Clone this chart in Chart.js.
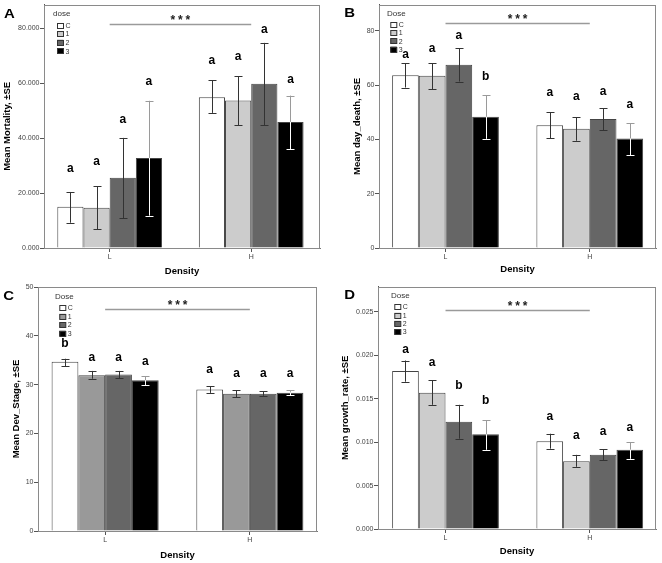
<!DOCTYPE html>
<html>
<head>
<meta charset="utf-8">
<script src="https://cdn.jsdelivr.net/npm/chart.js"></script>
<style>
html, body { margin: 0; padding: 0; background: #fff; }
#wrap { position: relative; width: 662px; height: 563px; }
canvas { position: absolute; }
</style>
</head>
<body>
<div id="wrap">
  <canvas id="chartA" width="331" height="282" style="left:0;top:0"></canvas>
  <canvas id="chartB" width="331" height="282" style="left:331px;top:0"></canvas>
  <canvas id="chartC" width="331" height="281" style="left:0;top:282px"></canvas>
  <canvas id="chartD" width="331" height="281" style="left:331px;top:282px"></canvas>
</div>
<script>
// categories and series (rows = dose C,1,2,3; columns = density L,H)
const densities = ['L', 'H'];
const doses = ['C', '1', '2', '3'];

// A - mortality
const mortMean = [[15.0, 54.9], [14.7, 53.7], [25.6, 59.8], [32.8, 45.9]];
const mortLow = [[9.2, 49.2], [6.9, 44.7], [10.9, 44.7], [11.8, 36.0]];
const mortHigh = [[20.4, 61.0], [22.4, 62.5], [40.1, 74.7], [53.6, 55.5]];
const mortLetters = [['a', 'a'], ['a', 'a'], ['a', 'a'], ['a', 'a']];
const mortLetterY = [[28.8, 68.2], [31.5, 69.7], [46.7, 79.4], [60.4, 61.2]];
const mortStar = 81.5;
const mortTicks = [0, 20, 40, 60, 80];
const mortTickLabels = ['0.000', '20.000', '40.000', '60.000', '80.000'];

// B - day of death
const deathMean = [[63.6, 45.2], [63.4, 43.9], [67.5, 47.5], [48.3, 40.3]];
const deathLow = [[59.1, 40.4], [58.5, 39.5], [61.3, 43.4], [40.2, 34.1]];
const deathHigh = [[68.0, 50.0], [68.1, 48.2], [73.5, 51.5], [56.3, 46.0]];
const deathLetters = [['a', 'a'], ['a', 'a'], ['a', 'a'], ['b', 'a']];
const deathLetterY = [[71.2, 57.1], [73.3, 55.9], [78.3, 57.4], [63.1, 52.7]];
const deathStar = 82.7;
const deathTicks = [0, 20, 40, 60, 80];
const deathTickLabels = ['0', '20', '40', '60', '80'];

// C - development stage
const stageMean = [[34.66, 29.0], [31.9, 28.15], [32.05, 28.15], [30.9, 28.35]];
const stageLow = [[33.8, 28.3], [31.2, 27.4], [31.3, 27.7], [29.9, 27.8]];
const stageHigh = [[35.3, 29.7], [32.8, 28.8], [32.8, 28.6], [31.7, 28.8]];
const stageLetters = [['b', 'a'], ['a', 'a'], ['a', 'a'], ['a', 'a']];
const stageLetterY = [[38.3, 33.0], [35.5, 32.2], [35.5, 32.3], [34.7, 32.3]];
const stageStar = 45.5;
const stageTicks = [0, 10, 20, 30, 40, 50];
const stageTickLabels = ['0', '10', '20', '30', '40', '50'];

// D - growth rate
const growthMean = [[0.0182, 0.0101], [0.0157, 0.0078], [0.01235, 0.00854], [0.0109, 0.00912]];
const growthLow = [[0.01696, 0.00925], [0.0143, 0.00716], [0.0104, 0.00793], [0.00912, 0.00808]];
const growthHigh = [[0.0194, 0.01097], [0.0171, 0.00854], [0.0143, 0.0092], [0.0125, 0.0100]];
const growthLetters = [['a', 'a'], ['a', 'a'], ['b', 'a'], ['b', 'a']];
const growthLetterY = [[0.0207, 0.0129], [0.0191, 0.0107], [0.0165, 0.0112], [0.0148, 0.0117]];
const growthStar = 0.0252;
const growthTicks = [0, 0.005, 0.010, 0.015, 0.020, 0.025];
const growthTickLabels = ['0.000', '0.005', '0.010', '0.015', '0.020', '0.025'];

const FONT = '"Liberation Sans", Arial, sans-serif';
const fillsLight = ['#ffffff', '#cccccc', '#666666', '#000000'];
const fillsMid = ['#ffffff', '#999999', '#666666', '#000000'];

const panels = [
  { id: 'chartA', tag: 'A', yTitle: 'Mean Mortality, ±SE', legendTitle: 'dose',
    mean: mortMean, low: mortLow, high: mortHigh, letters: mortLetters, letterY: mortLetterY,
    star: mortStar, yMax: 88.6, ticks: mortTicks, tickLabels: mortTickLabels, fills: fillsLight,
    area: { left: 44, right: 320, top: 4, bottom: 248, h: 282 }, xRange: [0.536, 2.486],
    yTitlePad: 1.5, xTitlePad: 5, legend: { tx: 53, ty: 13.5, bx: 57, by: 25.3, step: 8.6 }, tagPos: [4, 18.3] },
  { id: 'chartB', tag: 'B', yTitle: 'Mean day_death, ±SE', legendTitle: 'Dose',
    mean: deathMean, low: deathLow, high: deathHigh, letters: deathLetters, letterY: deathLetterY,
    star: deathStar, yMax: 89.6, ticks: deathTicks, tickLabels: deathTickLabels, fills: fillsLight,
    area: { left: 48, right: 325, top: 4, bottom: 248, h: 282 }, xRange: [0.539, 2.459],
    yTitlePad: 21, xTitlePad: 6.5, legend: { tx: 56, ty: 13.5, bx: 59.3, by: 24.5, step: 8.3 }, tagPos: [13.3, 17.3] },
  { id: 'chartC', tag: 'C', yTitle: 'Mean Dev_Stage, ±SE', legendTitle: 'Dose',
    mean: stageMean, low: stageLow, high: stageHigh, letters: stageLetters, letterY: stageLetterY,
    star: stageStar, yMax: 50, ticks: stageTicks, tickLabels: stageTickLabels, fills: fillsMid,
    area: { left: 38, right: 317, top: 5, bottom: 249, h: 281 }, xRange: [0.536, 2.464],
    yTitlePad: 11, xTitlePad: 1.5, legend: { tx: 55, ty: 14.5, bx: 59.3, by: 26, step: 8.5 }, tagPos: [3.3, 18.3] },
  { id: 'chartD', tag: 'D', yTitle: 'Mean growth_rate, ±SE', legendTitle: 'Dose',
    mean: growthMean, low: growthLow, high: growthHigh, letters: growthLetters, letterY: growthLetterY,
    star: growthStar, yMax: 0.0279, ticks: growthTicks, tickLabels: growthTickLabels, fills: fillsLight,
    area: { left: 47, right: 325, top: 4, bottom: 247, h: 281 }, xRange: [0.532, 2.459],
    yTitlePad: 9, xTitlePad: 5.5, legend: { tx: 60, ty: 13.5, bx: 63.3, by: 25, step: 8.3 }, tagPos: [13.3, 16.7] }
];

const extras = {
  id: 'extras',
  afterDatasetsDraw(chart, args, opts) {
    const p = opts.panel;
    const { ctx, chartArea: a, scales: { x, y } } = chart;
    ctx.save();
    // error bars
    chart.data.datasets.forEach((ds, i) => {
      chart.getDatasetMeta(i).data.forEach((bar, j) => {
        const cx = Math.round(bar.x) + 0.5;
        const yh = y.getPixelForValue(p.high[i][j]);
        const yl = y.getPixelForValue(p.low[i][j]);
        const top = bar.y;
        const seg = (y1, y2, col) => {
          ctx.strokeStyle = col; ctx.lineWidth = 1;
          ctx.beginPath(); ctx.moveTo(cx, y1); ctx.lineTo(cx, y2); ctx.stroke();
        };
        const cap = (yy, col) => {
          ctx.strokeStyle = col; ctx.lineWidth = 1;
          ctx.beginPath(); ctx.moveTo(cx - 4, Math.round(yy) + 0.5); ctx.lineTo(cx + 4, Math.round(yy) + 0.5); ctx.stroke();
        };
        if (i === 3) {
          seg(yh, Math.min(top, yl), '#9a9a9a');
          if (yl > top) seg(top, yl, '#ffffff');
          cap(yh, '#9a9a9a');
          cap(yl, yl > top ? '#ffffff' : '#9a9a9a');
        } else {
          seg(yh, yl, '#333333');
          cap(yh, '#333333');
          cap(yl, '#333333');
        }
      });
    });
    // significance letters
    ctx.fillStyle = '#000';
    ctx.font = 'bold 12px ' + FONT;
    ctx.textAlign = 'center';
    ctx.textBaseline = 'middle';
    chart.data.datasets.forEach((ds, i) => {
      chart.getDatasetMeta(i).data.forEach((bar, j) => {
        ctx.fillText(p.letters[i][j], bar.x, y.getPixelForValue(p.letterY[i][j]));
      });
    });
    // density effect bar
    const x1 = x.getPixelForValue(1), x2 = x.getPixelForValue(2);
    const sy = Math.round(y.getPixelForValue(p.star)) + 0.5;
    ctx.strokeStyle = '#9a9a9a'; ctx.lineWidth = 1.5;
    ctx.beginPath(); ctx.moveTo(x1, sy); ctx.lineTo(x2, sy); ctx.stroke();
    ctx.font = 'bold 12px ' + FONT;
    ctx.textBaseline = 'alphabetic';
    ctx.fillStyle = '#222';
    [-7.5, 0, 7.5].forEach(dx => ctx.fillText('*', (x1 + x2) / 2 + dx, sy - 1));
    // plot frame
    ctx.strokeStyle = '#8a8a8a'; ctx.lineWidth = 1;
    ctx.strokeRect(Math.round(a.left) + 0.5, Math.round(a.top) + 0.5,
      Math.round(a.right - a.left) - 1, Math.round(a.bottom - a.top));
    ctx.restore();
  },
  afterDraw(chart, args, opts) {
    const p = opts.panel;
    const ctx = chart.ctx;
    const L = p.legend;
    ctx.save();
    ctx.fillStyle = '#333';
    ctx.font = '8px ' + FONT;
    ctx.textAlign = 'left';
    ctx.textBaseline = 'middle';
    ctx.fillText(p.legendTitle, L.tx, L.ty);
    ctx.font = '7px ' + FONT;
    doses.forEach((d, i) => {
      const cy = L.by + i * L.step;
      ctx.fillStyle = p.fills[i];
      ctx.fillRect(L.bx, cy - 2.75, 6.5, 5.5);
      ctx.strokeStyle = '#333'; ctx.lineWidth = 1;
      ctx.strokeRect(L.bx + 0.5, Math.round(cy - 2.75) + 0.5, 6, 5);
      ctx.fillStyle = '#333';
      ctx.fillText(d, L.bx + 8.5, cy + 0.5);
    });
    // panel tag
    ctx.fillStyle = '#000';
    ctx.font = 'bold 13px ' + FONT;
    ctx.textBaseline = 'alphabetic';
    ctx.translate(p.tagPos[0], p.tagPos[1]);
    ctx.scale(1.15, 1);
    ctx.fillText(p.tag, 0, 0);
    ctx.restore();
  }
};

panels.forEach(p => {
  const A = p.area;
  new Chart(document.getElementById(p.id), {
    type: 'bar',
    data: {
      datasets: doses.map((d, i) => ({
        label: d,
        data: densities.map((dn, j) => ({ x: j + 1, y: p.mean[i][j] })),
        backgroundColor: p.fills[i],
        borderColor: '#444',
        borderWidth: 1,
        borderSkipped: 'bottom',
        barPercentage: 1,
        categoryPercentage: 0.74
      }))
    },
    options: {
      responsive: false,
      animation: false,
      devicePixelRatio: 1,
      layout: { padding: { top: A.top, right: 331 - A.right, left: 0, bottom: 0 } },
      plugins: { legend: { display: false }, tooltip: { enabled: false }, extras: { panel: p } },
      scales: {
        x: {
          type: 'linear',
          offset: false,
          min: p.xRange[0],
          max: p.xRange[1],
          afterFit: s => { s.height = A.h - A.bottom; },
          afterBuildTicks: s => { s.ticks = densities.map((d, j) => ({ value: j + 1 })); },
          ticks: { callback: v => densities[v - 1], font: { size: 7, family: FONT }, color: '#444', padding: 0.5, maxRotation: 0 },
          grid: { offset: false, drawOnChartArea: false, drawTicks: true, tickLength: 4, color: '#555' },
          border: { color: '#777' },
          title: { display: true, text: 'Density', font: { size: 9.5, weight: 'bold', family: FONT }, color: '#000', padding: { top: 0, bottom: p.xTitlePad } }
        },
        y: {
          min: 0,
          max: p.yMax,
          afterFit: s => { s.width = A.left; },
          afterBuildTicks: s => { s.ticks = p.ticks.map(v => ({ value: v })); },
          ticks: { callback: (v, i) => p.tickLabels[i], font: { size: 7, family: FONT }, color: '#444', padding: 0.5 },
          grid: { drawOnChartArea: false, drawTicks: true, tickLength: 4, color: '#555' },
          border: { color: '#555' },
          title: { display: true, text: p.yTitle, font: { size: 9.5, weight: 'bold', family: FONT }, color: '#000', padding: { top: p.yTitlePad, bottom: 0 } }
        }
      }
    },
    plugins: [extras]
  });
});
</script>
</body>
</html>
